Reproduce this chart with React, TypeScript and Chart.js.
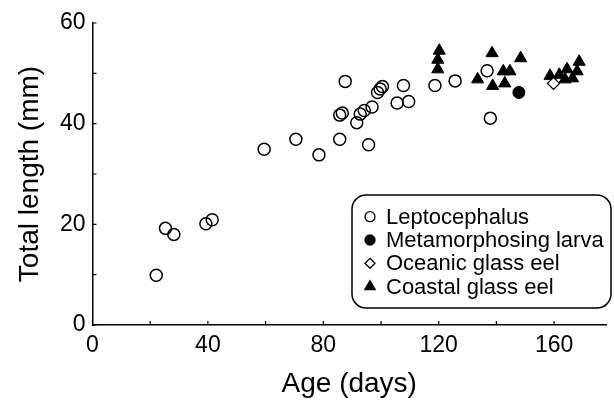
import React, { useEffect, useRef } from "react";
import { Chart, registerables } from "chart.js";

Chart.register(...registerables);

// Age (days) / Total length (mm)
const leptoAge = [22.1, 25.3, 28.2, 39.3, 41.5, 59.5, 70.5, 78.5, 85.7, 87.6, 85.7, 86.6, 91.6, 92.8, 94.2, 95.7, 96.9, 98.8, 99.7, 100.5, 105.6, 107.8, 109.6, 118.7, 125.7, 136.8, 137.9];
const leptoLen = [9.9, 19.2, 18.0, 20.1, 20.9, 34.9, 36.9, 33.8, 36.9, 48.4, 41.7, 42.1, 40.2, 41.9, 42.6, 35.8, 43.3, 46.2, 46.9, 47.4, 44.1, 47.6, 44.4, 47.6, 48.5, 50.5, 41.1];

const metaAge = [147.8];
const metaLen = [46.2];

const oceanicAge = [159.8];
const oceanicLen = [48.0];

const coastalAge = [120.2, 119.7, 119.7, 138.5, 133.5, 138.7, 142.4, 144.7, 142.9, 148.4, 158.6, 161.8, 164.5, 163.8, 166.4, 168.0, 168.7];
const coastalLen = [54.5, 52.7, 50.8, 54.0, 48.8, 47.5, 50.4, 50.4, 48.0, 53.0, 49.5, 49.7, 50.8, 48.8, 49.0, 50.4, 52.3];

const seriesLabels = ["Leptocephalus", "Metamorphosing larva", "Oceanic glass eel", "Coastal glass eel"];
const xTickLabels = ["0", "40", "80", "120", "160"];
const yTickLabels = ["0", "20", "40", "60"];

const FONT = '"Liberation Sans", Arial, Helvetica, sans-serif';

const toPoints = (xs: number[], ys: number[]) => xs.map((x, i) => ({ x, y: ys[i] }));

const inwardTicks = {
  id: "inwardTicks",
  afterDatasetsDraw(chart: any) {
    const { ctx, chartArea, scales } = chart;
    const x = scales.x;
    const y = scales.y;
    ctx.save();
    ctx.strokeStyle = "#000";
    ctx.lineWidth = 1.2;
    ctx.beginPath();
    x.ticks.forEach((t: any) => {
      const px = x.getPixelForValue(t.value);
      ctx.moveTo(px, chartArea.bottom);
      ctx.lineTo(px, chartArea.bottom - 4);
    });
    y.ticks.forEach((t: any) => {
      const py = y.getPixelForValue(t.value);
      ctx.moveTo(chartArea.left, py);
      ctx.lineTo(chartArea.left + 4, py);
    });
    ctx.stroke();
    ctx.restore();
  },
};

const boxLegend = {
  id: "boxLegend",
  afterDraw(chart: any) {
    const { ctx } = chart;
    const bx = 352, by = 195, bw = 259, bh = 113, r = 14;
    ctx.save();
    ctx.beginPath();
    ctx.moveTo(bx + r, by);
    ctx.lineTo(bx + bw - r, by);
    ctx.arcTo(bx + bw, by, bx + bw, by + r, r);
    ctx.lineTo(bx + bw, by + bh - r);
    ctx.arcTo(bx + bw, by + bh, bx + bw - r, by + bh, r);
    ctx.lineTo(bx + r, by + bh);
    ctx.arcTo(bx, by + bh, bx, by + bh - r, r);
    ctx.lineTo(bx, by + r);
    ctx.arcTo(bx, by, bx + r, by, r);
    ctx.closePath();
    ctx.fillStyle = "#fff";
    ctx.fill();
    ctx.strokeStyle = "#000";
    ctx.lineWidth = 1.5;
    ctx.stroke();

    const rowY = [216.7, 240, 263.3, 286.7];
    ctx.font = `22px ${FONT}`;
    ctx.textBaseline = "middle";
    ctx.textAlign = "left";
    chart.data.datasets.forEach((ds: any, i: number) => {
      const cy = rowY[i];
      ctx.strokeStyle = "#000";
      ctx.fillStyle = ds.backgroundColor;
      ctx.lineWidth = 1.3;
      const style = ds.pointStyle;
      const rad = style === "triangle" ? 6 : 5;
      ctx.beginPath();
      if (style === "circle") {
        ctx.arc(370, cy, rad, 0, Math.PI * 2);
      } else if (style === "rectRot") {
        ctx.moveTo(370, cy - rad);
        ctx.lineTo(370 + rad, cy);
        ctx.lineTo(370, cy + rad);
        ctx.lineTo(370 - rad, cy);
        ctx.closePath();
      } else {
        ctx.moveTo(370, cy - rad);
        ctx.lineTo(370 + rad * 0.87, cy + rad * 0.5);
        ctx.lineTo(370 - rad * 0.87, cy + rad * 0.5);
        ctx.closePath();
      }
      if (ds.backgroundColor !== "rgba(0,0,0,0)") ctx.fill();
      ctx.stroke();
      ctx.fillStyle = "#000";
      ctx.fillText(ds.label, 386, cy + 1);
    });
    ctx.restore();
  },
};

export default function App() {
  const ref = useRef<HTMLCanvasElement | null>(null);

  useEffect(() => {
    document.body.style.margin = "0";
    if (!ref.current) return;
    const chart = new Chart(ref.current, {
      type: "scatter",
      data: {
        datasets: [
          {
            label: seriesLabels[0],
            data: toPoints(leptoAge, leptoLen),
            pointStyle: "circle",
            pointRadius: 6,
            borderColor: "#000",
            backgroundColor: "rgba(0,0,0,0)",
            borderWidth: 1.5,
            order: 2,
          },
          {
            label: seriesLabels[1],
            data: toPoints(metaAge, metaLen),
            pointStyle: "circle",
            pointRadius: 6,
            borderColor: "#000",
            backgroundColor: "#000",
            borderWidth: 1,
            order: 1,
          },
          {
            label: seriesLabels[2],
            data: toPoints(oceanicAge, oceanicLen),
            pointStyle: "rectRot",
            pointRadius: 6,
            borderColor: "#000",
            backgroundColor: "#fff",
            borderWidth: 1.3,
            order: 0,
          },
          {
            label: seriesLabels[3],
            data: toPoints(coastalAge, coastalLen),
            pointStyle: "triangle",
            pointRadius: 7,
            borderColor: "#000",
            backgroundColor: "#000",
            borderWidth: 1,
            order: 3,
          },
        ] as any,
      },
      options: {
        animation: false,
        responsive: false,
        devicePixelRatio: 1,
        layout: { padding: { top: 23, right: 1, left: 0, bottom: 0 } },
        plugins: {
          legend: { display: false },
          tooltip: { enabled: false },
        },
        scales: {
          x: {
            type: "linear",
            min: 0,
            max: 178,
            grid: { display: true, drawOnChartArea: false, drawTicks: false },
            border: { display: true, color: "#000", width: 1.5 },
            ticks: {
              stepSize: 20,
              includeBounds: false,
              autoSkip: false,
              maxRotation: 0,
              padding: 7,
              color: "#000",
              font: { family: FONT, size: 23 },
              callback: (v: any) => {
                const s = String(v);
                return xTickLabels.includes(s) ? s : "";
              },
            },
            title: {
              display: true,
              text: "Age (days)",
              color: "#000",
              font: { family: FONT, size: 28 },
              padding: { top: 0, bottom: 2 },
            },
            afterFit: (s: any) => {
              s.height = 78;
            },
          },
          y: {
            type: "linear",
            min: 0,
            max: 60,
            grid: { display: true, drawOnChartArea: false, drawTicks: false },
            border: { display: true, color: "#000", width: 1.5 },
            ticks: {
              stepSize: 10,
              autoSkip: false,
              padding: 7,
              color: "#000",
              font: { family: FONT, size: 23 },
              callback: (v: any) => {
                const s = String(v);
                return yTickLabels.includes(s) ? s : "";
              },
            },
            title: {
              display: true,
              text: "Total length (mm)",
              color: "#000",
              font: { family: FONT, size: 28 },
              padding: { top: 13, bottom: 0 },
            },
            afterFit: (s: any) => {
              s.width = 92.5;
            },
          },
        },
      },
      plugins: [inwardTicks, boxLegend],
    });
    return () => chart.destroy();
  }, []);

  return (
    <div style={{ width: 614, height: 403, background: "#fff" }}>
      <canvas ref={ref} width={614} height={403} style={{ width: 614, height: 403, display: "block" }} />
    </div>
  );
}
